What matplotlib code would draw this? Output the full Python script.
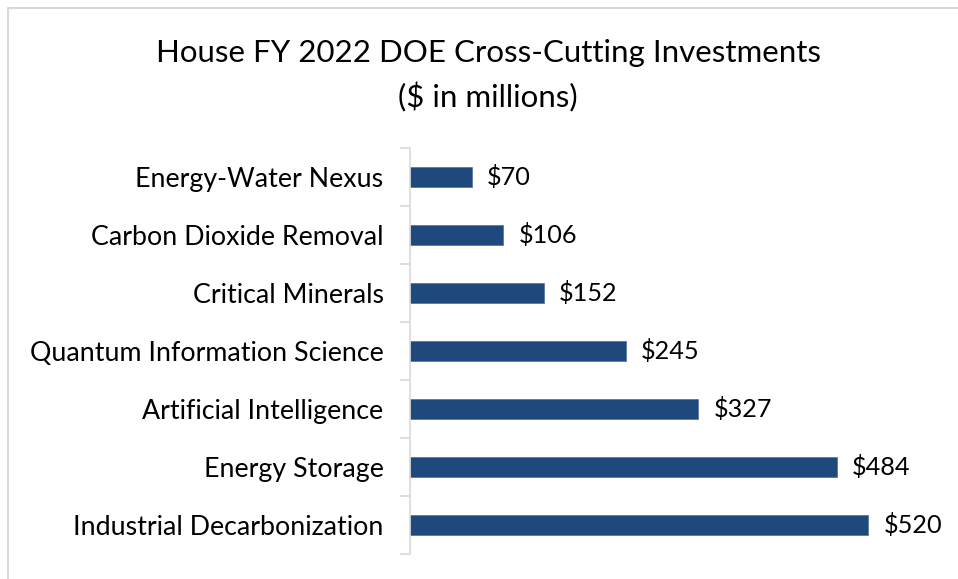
import matplotlib.pyplot as plt
from matplotlib.patches import Rectangle

categories = ["Industrial Decarbonization", "Energy Storage", "Artificial Intelligence",
              "Quantum Information Science", "Critical Minerals",
              "Carbon Dioxide Removal", "Energy-Water Nexus"]
values = [520, 484, 327, 245, 152, 106, 70]
value_labels = ["$520", "$484", "$327", "$245", "$152", "$106", "$70"]

plt.rcParams['font.family'] = ['Lato', 'DejaVu Sans']

W, H = 958, 579
fig = plt.figure(figsize=(W / 100, H / 100), dpi=100)

# light grey frame (only top and left edges show in the crop)
fig.patches.append(Rectangle((8 / W, -0.1), 1.2, 1 - 8 / H + 0.1, transform=fig.transFigure,
                             fill=False, edgecolor='#D9D9D9', linewidth=1.5))

ax = fig.add_axes([410 / W, 1 - 554 / H, (939 - 410) / W, (554 - 148) / H])
pos = list(range(len(categories)))
ax.barh(pos, values, height=0.345, color='#1F497D', edgecolor='#4F6F9F', linewidth=0.5)
for p, v, lab in zip(pos, values, value_labels):
    ax.annotate(lab, (v, p), xytext=(15, 0), textcoords='offset pixels',
                va='center', ha='left', fontsize=18.2)

ax.set_xlim(0, 600)
ax.set_ylim(-0.5, len(categories) - 0.5)
ax.set_yticks(pos)
ax.set_yticklabels(categories, fontsize=19.3)
ax.set_yticks([i - 0.5 for i in range(len(categories) + 1)], minor=True)
ax.tick_params(axis='y', which='major', length=0, pad=19)
ax.tick_params(axis='y', which='minor', length=7, color='#D9D9D9', width=1.2)
ax.set_xticks([])
for s in ['top', 'right', 'bottom']:
    ax.spines[s].set_visible(False)
ax.spines['left'].set_color('#D9D9D9')
ax.spines['left'].set_linewidth(1.2)

fig.text(488 / W, 1 - 53 / H, "House FY 2022 DOE Cross-Cutting Investments",
         ha='center', va='center', fontsize=22.5)
fig.text(488 / W, 1 - 97 / H, "($ in millions)", ha='center', va='center', fontsize=22.5)

fig.savefig("out.png", dpi=100)
